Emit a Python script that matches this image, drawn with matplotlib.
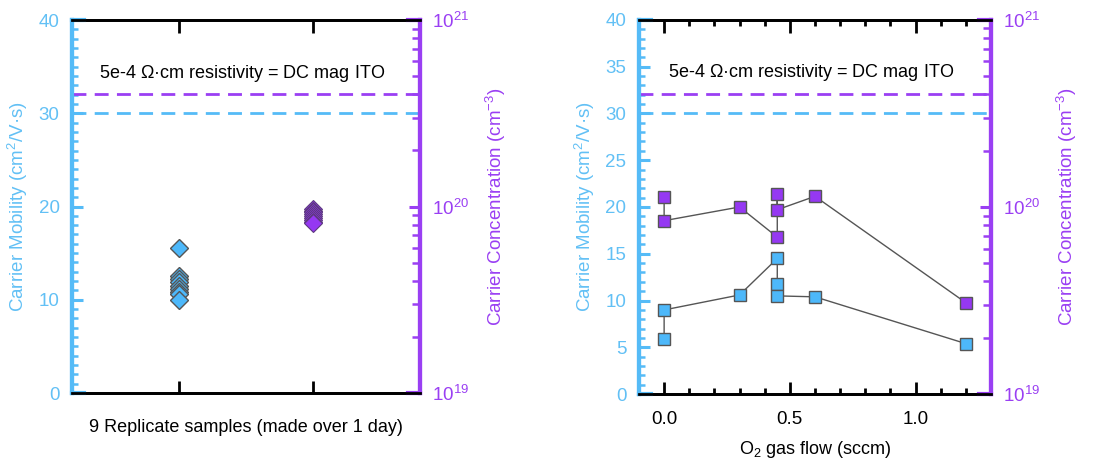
import numpy as np
import matplotlib.pyplot as plt
from matplotlib.ticker import MultipleLocator, LogLocator, NullFormatter

plt.rcParams['font.family'] = ['Liberation Sans', 'DejaVu Sans']
plt.rcParams['mathtext.fontset'] = 'custom'
plt.rcParams['mathtext.rm'] = 'Liberation Sans'
plt.rcParams['mathtext.it'] = 'Liberation Sans:italic'

BLUE = '#55BBF7'
BLUE_TXT = '#62C0F5'
PURPLE = '#9A3FF3'
BLUE_FILL = '#4DB8FA'
PURPLE_FILL = '#9538F2'
EDGE = '#555555'
PURPLE_EDGE = '#5E3A80'

# Left panel: replicate samples
rep_mobility = [15.5, 12.6, 12.2, 11.9, 11.5, 11.2, 10.8, 10.6, 10.0]
rep_conc = [0.97e20, 0.95e20, 0.93e20, 0.91e20, 0.89e20, 0.87e20, 0.85e20, 0.83e20, 0.82e20]

# Right panel: O2 gas flow series (in drawing order)
flow_mob = [0.0, 0.0, 0.3, 0.45, 0.45, 0.45, 0.6, 1.2]
mobility = [5.9, 9.0, 10.6, 14.5, 11.8, 10.5, 10.4, 5.4]
flow_conc = [0.0, 0.0, 0.3, 0.45, 0.45, 0.45, 0.6, 1.2]
conc = [1.13e20, 0.845e20, 1.0e20, 0.69e20, 1.17e20, 0.967e20, 1.14e20, 0.308e20]

# reference lines
ref_mobility = 30
ref_conc = 4.0e20
ref_text = '5e-4 $\\Omega$\u00b7cm resistivity = DC mag ITO'

fig = plt.figure(figsize=(11.08, 4.61), dpi=100)
axL = fig.add_axes([0.065, 0.1475, 0.314, 0.809])
axR = fig.add_axes([0.5767, 0.145, 0.3177, 0.812])


def style_axes(ax, ymajor):
    ax2 = ax.twinx()
    ax.set_ylim(0, 40)
    ax2.set_yscale('log')
    ax2.set_ylim(1e19, 1e21)
    for a in (ax, ax2):
        a.spines['top'].set_linewidth(2)
        a.spines['bottom'].set_linewidth(2)
        a.spines['left'].set_color(BLUE)
        a.spines['left'].set_linewidth(3)
        a.spines['right'].set_color(PURPLE)
        a.spines['right'].set_linewidth(3)
    ax.yaxis.set_major_locator(MultipleLocator(ymajor))
    ax.yaxis.set_minor_locator(MultipleLocator(1))
    ax.tick_params(axis='y', which='major', direction='in', length=8, width=2.2,
                   color=BLUE, labelcolor=BLUE_TXT, labelsize=13.5, pad=9)
    ax.tick_params(axis='y', which='minor', direction='in', length=4, width=1.8, color=BLUE)
    ax2.yaxis.set_major_locator(LogLocator(base=10, numticks=5))
    ax2.yaxis.set_minor_locator(LogLocator(base=10, subs=np.arange(2, 10), numticks=20))
    ax2.yaxis.set_minor_formatter(NullFormatter())
    ax2.tick_params(axis='y', which='major', direction='in', length=8, width=2.2,
                    color=PURPLE, labelcolor=PURPLE, labelsize=13.5, pad=9)
    ax2.tick_params(axis='y', which='minor', direction='in', length=6, width=1.8, color=PURPLE)
    ax.tick_params(axis='x', which='both', direction='in', top=True, width=2, labelsize=13.5, pad=12)
    ax.tick_params(axis='x', which='major', length=9)
    ax.tick_params(axis='x', which='minor', length=4)
    # coloured corners on top/bottom spines
    for y in (0, 1):
        ax.plot([0, 0.035], [y, y], color=BLUE, lw=3, transform=ax.transAxes, clip_on=False, zorder=5)
        ax.plot([0.965, 1], [y, y], color=PURPLE, lw=3, transform=ax.transAxes, clip_on=False, zorder=5)
    ax.axhline(ref_mobility, color=BLUE, lw=2, ls=(0, (5, 3)))
    ax2.axhline(ref_conc, color=PURPLE, lw=2, ls=(0, (5, 3)))
    ax.text(0.49, 0.858, ref_text, transform=ax.transAxes, ha='center', va='center', fontsize=13)
    ax.set_ylabel('Carrier Mobility (cm$^2$/V\u00b7s)', color=BLUE_TXT, fontsize=13.5, labelpad=6)
    ax2.set_ylabel('Carrier Concentration (cm$^{-3}$)', color=PURPLE, fontsize=13.5, labelpad=10)
    return ax2


axL2 = style_axes(axL, 10)
axL.set_xlim(0.2, 2.8)
axL.set_xticks([1, 2])
axL.set_xticklabels([])
axL.set_xlabel('9 Replicate samples (made over 1 day)', fontsize=13, labelpad=7)
axL.plot([1] * len(rep_mobility), rep_mobility, 'D', ms=9, mfc=BLUE_FILL, mec=EDGE, mew=1, zorder=4)
axL2.plot([2] * len(rep_conc), rep_conc, 'D', ms=9, mfc=PURPLE_FILL, mec=PURPLE_EDGE, mew=0.8, zorder=4)

axR2 = style_axes(axR, 5)
axR.set_xlim(-0.1, 1.3)
axR.xaxis.set_major_locator(MultipleLocator(0.5))
axR.xaxis.set_minor_locator(MultipleLocator(0.1))
axR.set_xlabel('O$_2$ gas flow (sccm)', fontsize=13, labelpad=8)
axR.plot(flow_mob, mobility, '-s', color='#555555', lw=1, ms=8.5, mfc=BLUE_FILL, mec=EDGE, mew=1, zorder=4)
axR2.plot(flow_conc, conc, '-s', color='#555555', lw=1, ms=8.5, mfc=PURPLE_FILL, mec=EDGE, mew=1, zorder=4)

fig.savefig('out.png', dpi=100)
